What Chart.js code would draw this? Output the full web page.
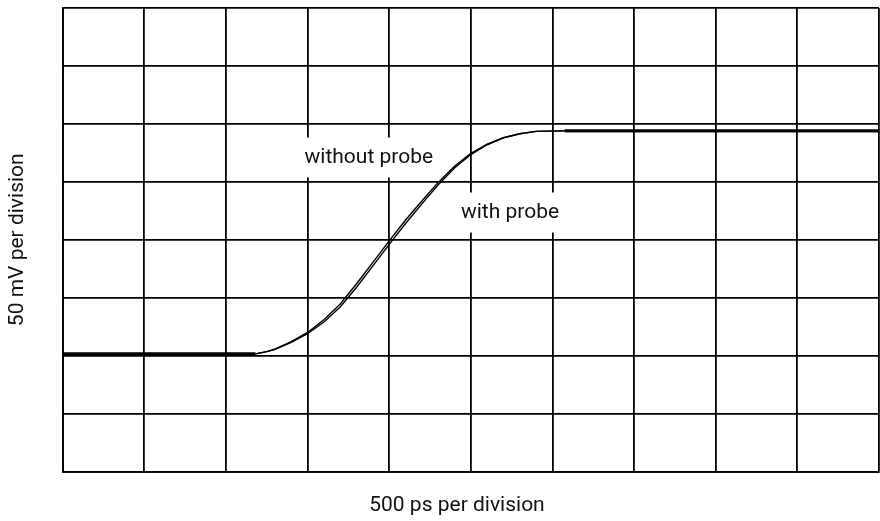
<!DOCTYPE html>
<html>
<head>
<meta charset="utf-8">
<script src="https://cdn.jsdelivr.net/npm/chart.js@4.4.1/dist/chart.umd.min.js"></script>
<style>
  html, body { margin: 0; padding: 0; background: #fff; }
  #wrap { width: 880px; height: 521px; }
</style>
</head>
<body>
<div id="wrap"><canvas id="grafico"></canvas></div>
<script>
// time in divisions (500 ps each), level in divisions (50 mV each)
const tempo = [0, 2.36, 2.5, 2.6, 2.8, 3.0, 3.2, 3.4, 3.6, 3.8, 4.0, 4.2, 4.4, 4.6, 4.8, 5.0, 5.2, 5.4, 5.6, 5.8, 5.95, 6.15, 10];
const semSonda = [2.03, 2.03, 2.07, 2.11, 2.24, 2.40, 2.62, 2.89, 3.24, 3.61, 3.98, 4.34, 4.67, 4.99, 5.27, 5.49, 5.65, 5.76, 5.83, 5.87, 5.875, 5.88, 5.88];
const comSonda = [2.03, 2.03, 2.07, 2.11, 2.23, 2.38, 2.58, 2.84, 3.18, 3.55, 3.92, 4.28, 4.62, 4.95, 5.24, 5.47, 5.64, 5.76, 5.83, 5.87, 5.875, 5.88, 5.88];

const rotulos = ['without probe', 'with probe'];
const rotuloX = [3.75, 5.48];
const rotuloY = [5.42, 4.47];

const tituloX = '500 ps per division';
const tituloY = '50 mV per division';

const fonte = "'Roboto', 'Liberation Sans', sans-serif";
const tamFonte = 21;

const pontos = (ys) => tempo.map((t, i) => ({ x: t, y: ys[i] }));

// white boxes behind the trace labels, drawn over the grid but under the traces
const caixasRotulo = {
  id: 'caixasRotulo',
  beforeDatasetsDraw(chart) {
    const { ctx, scales } = chart;
    ctx.save();
    ctx.font = tamFonte + 'px ' + fonte;
    ctx.textAlign = 'center';
    ctx.textBaseline = 'middle';
    rotulos.forEach((txt, i) => {
      const x = scales.x.getPixelForValue(rotuloX[i]);
      const y = scales.y.getPixelForValue(rotuloY[i]);
      const w = ctx.measureText(txt).width + 8;
      ctx.fillStyle = '#fff';
      ctx.fillRect(x - w / 2, y - 20, w, 40);
      ctx.fillStyle = '#111';
      ctx.fillText(txt, x, y);
    });
    ctx.restore();
  }
};

// x axis caption sits a little left of the plot centre
const legendaX = {
  id: 'legendaX',
  afterDraw(chart) {
    const { ctx, chartArea } = chart;
    ctx.save();
    ctx.font = tamFonte + 'px ' + fonte;
    ctx.fillStyle = '#111';
    ctx.textAlign = 'center';
    ctx.textBaseline = 'middle';
    ctx.fillText(tituloX, chartArea.left + (chartArea.right - chartArea.left) * 0.483, chart.height - 15);
    ctx.restore();
  }
};

const traco = (ys) => ({
  data: pontos(ys),
  borderColor: '#000',
  borderWidth: 1.4,
  pointRadius: 0,
  tension: 0,
  segment: {
    borderWidth: c => c.p0.parsed.y === c.p1.parsed.y ? 2.6 : 1.4
  }
});

const ctx = document.getElementById('grafico').getContext('2d');
new Chart(ctx, {
  type: 'line',
  data: {
    datasets: [
      Object.assign({ label: 'without probe' }, traco(semSonda)),
      Object.assign({ label: 'with probe' }, traco(comSonda))
    ]
  },
  options: {
    responsive: true,
    maintainAspectRatio: false,
    animation: false,
    layout: { padding: { top: 8, right: 1, left: 0, bottom: 49.5 } },
    plugins: {
      legend: { display: false },
      tooltip: { enabled: false }
    },
    scales: {
      x: {
        type: 'linear',
        min: 0,
        max: 10,
        ticks: { display: false, stepSize: 1 },
        grid: { color: '#000', lineWidth: 1.8, drawTicks: false },
        border: { color: '#000', width: 1.8 }
      },
      y: {
        min: 0,
        max: 8,
        ticks: { display: false, stepSize: 1 },
        grid: { color: '#000', lineWidth: 1.8, drawTicks: false },
        border: { color: '#000', width: 1.8 },
        title: {
          display: true,
          text: tituloY,
          color: '#111',
          font: { family: fonte, size: tamFonte },
          padding: { top: 5, bottom: 32.5 }
        }
      }
    }
  },
  plugins: [caixasRotulo, legendaX]
});
</script>
</body>
</html>
